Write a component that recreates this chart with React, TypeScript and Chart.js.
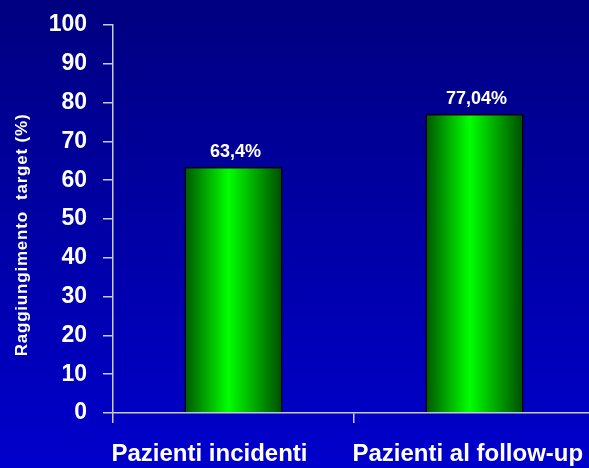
import React, { useEffect, useRef } from "react";
import { Chart, registerables } from "chart.js";

Chart.register(...registerables);

const categories: string[] = ["Pazienti incidenti", "Pazienti al follow-up"];
const targetReached: number[] = [63.4, 77.04];
const yTicks: number[] = [0, 10, 20, 30, 40, 50, 60, 70, 80, 90, 100];
const yTitle = "Raggiungimento  target (%)";

const AXIS_COLOR = "#c8cce0";
const FONT = "'Liberation Sans', Arial, Helvetica, sans-serif";
const BAR_PCT = 0.407;

const formatPct = (v: number) => String(v).replace(".", ",") + "%";

// Navy-to-blue vertical wash behind everything
const backgroundPlugin = {
  id: "bgWash",
  beforeDraw(chart: any) {
    const { ctx, width, height } = chart;
    const g = ctx.createLinearGradient(0, 0, 0, height);
    g.addColorStop(0, "#000080");
    g.addColorStop(1, "#0000cc");
    ctx.save();
    ctx.fillStyle = g;
    ctx.fillRect(0, 0, width, height);
    ctx.restore();
  },
};

// Rotated y-axis caption
const yTitlePlugin = {
  id: "yTitle",
  afterDraw(chart: any) {
    const { ctx } = chart;
    ctx.save();
    ctx.translate(22, 235);
    ctx.rotate(-Math.PI / 2);
    ctx.font = `bold 17px ${FONT}`;
    (ctx as any).letterSpacing = "0.8px";
    ctx.fillStyle = "#ffffff";
    ctx.textAlign = "center";
    ctx.textBaseline = "middle";
    ctx.fillText(yTitle, 0, 0);
    ctx.restore();
  },
};

// Percentage labels above each bar
const valueLabelPlugin = {
  id: "valueLabels",
  afterDatasetsDraw(chart: any) {
    const { ctx } = chart;
    const meta = chart.getDatasetMeta(0);
    ctx.save();
    ctx.font = `bold 18px ${FONT}`;
    ctx.fillStyle = "#ffffff";
    ctx.textAlign = "center";
    ctx.textBaseline = "alphabetic";
    meta.data.forEach((bar: any, i: number) => {
      ctx.fillText(formatPct(targetReached[i]), bar.x + 2, bar.y - 10);
    });
    ctx.restore();
  },
};

export default function App() {
  const canvasRef = useRef<HTMLCanvasElement | null>(null);

  useEffect(() => {
    const canvas = canvasRef.current;
    if (!canvas) return;

    // Horizontal dark-bright-dark green shading across each bar
    const barFill = (context: any) => {
      const chart = context.chart;
      const xs = chart.scales?.x;
      if (!xs || context.dataIndex === undefined) return "#00cc00";
      const cx = xs.getPixelForValue(context.dataIndex);
      const catW = xs.width / categories.length;
      const w = catW * BAR_PCT;
      if (!Number.isFinite(cx) || !Number.isFinite(w) || w <= 0) return "#00cc00";
      const g = chart.ctx.createLinearGradient(cx - w / 2, 0, cx + w / 2, 0);
      g.addColorStop(0, "#005500");
      g.addColorStop(0.45, "#00ff00");
      g.addColorStop(1, "#004c00");
      return g;
    };

    const chart = new Chart(canvas, {
      type: "bar",
      data: {
        labels: categories,
        datasets: [
          {
            data: targetReached,
            backgroundColor: barFill,
            borderColor: "#000000",
            borderWidth: 1.5,
            borderSkipped: "bottom",
            barPercentage: BAR_PCT,
            categoryPercentage: 1,
          },
        ],
      },
      options: {
        responsive: false,
        animation: false,
        layout: { padding: { top: 25, left: 0, right: 0, bottom: 0 } },
        plugins: {
          legend: { display: false },
          tooltip: { enabled: false },
        },
        scales: {
          x: {
            offset: true,
            grid: {
              display: true,
              offset: true,
              drawOnChartArea: false,
              drawTicks: true,
              tickLength: 10,
              color: AXIS_COLOR,
              lineWidth: 1.5,
            },
            border: { display: true, color: AXIS_COLOR, width: 1.5 },
            ticks: {
              color: "#ffffff",
              font: { family: FONT, size: 24, weight: "bold" },
              padding: 17,
              align: "start",
              labelOffset: -122,
              maxRotation: 0,
              autoSkip: false,
            },
            afterFit(scale: any) {
              scale.height = 55;
              scale.paddingLeft = 0;
              scale.paddingRight = 0;
            },
          },
          y: {
            min: 0,
            max: 100,
            afterBuildTicks(scale: any) {
              scale.ticks = yTicks.map((v) => ({ value: v }));
            },
            grid: {
              display: true,
              drawOnChartArea: false,
              drawTicks: true,
              tickLength: 10,
              color: AXIS_COLOR,
              lineWidth: 1.5,
            },
            border: { display: true, color: AXIS_COLOR, width: 1.5 },
            ticks: {
              color: "#ffffff",
              font: { family: FONT, size: 23, weight: "bold" },
              padding: 16,
            },
            afterFit(scale: any) {
              scale.width = 113;
              scale.paddingTop = 0;
              scale.paddingBottom = 0;
            },
          },
        },
      },
      plugins: [backgroundPlugin, yTitlePlugin, valueLabelPlugin],
    });

    return () => chart.destroy();
  }, []);

  return (
    <div
      style={{
        position: "fixed",
        left: 0,
        top: 0,
        width: 589,
        height: 468,
        overflow: "hidden",
        background: "#0000aa",
      }}
    >
      <canvas ref={canvasRef} width={595} height={468} style={{ display: "block" }} />
    </div>
  );
}
